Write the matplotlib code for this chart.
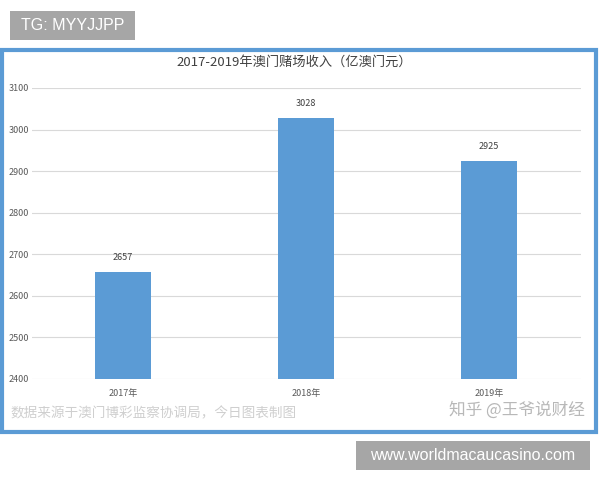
import matplotlib
matplotlib.use("Agg")
import matplotlib.pyplot as plt
from matplotlib.patches import Rectangle

plt.rcParams['font.family'] = ['Noto Sans CJK SC', 'DejaVu Sans']

# 数据
years = ["2017年", "2018年", "2019年"]
revenue = [2657, 3028, 2925]
yticks = [2400, 2500, 2600, 2700, 2800, 2900, 3000, 3100]

title = "2017-2019年澳门赌场收入（亿澳门元）"
source = "数据来源于澳门博彩监察协调局，今日图表制图"
zhihu = "知乎 @王爷说财经"

W, H = 600, 480
fig = plt.figure(figsize=(W / 100, H / 100), dpi=100)
fig.patch.set_facecolor("white")

def fx(px):
    return px / W

def fy(py):
    return 1 - py / H

def box(x0, y0, x1, y1, **kw):
    # 像素坐标 -> figure 坐标
    fig.patches.append(Rectangle((fx(x0), fy(y1)), fx(x1) - fx(x0), fy(y0) - fy(y1),
                                 transform=fig.transFigure, **kw))

# 外框
box(1.5, 50, 595.5, 432, fill=False, edgecolor="#5b9bd5", linewidth=3, zorder=0)

ax = fig.add_axes([fx(31.5), fy(379), fx(580.5) - fx(31.5), fy(88) - fy(379)])
x = range(len(years))
ax.bar(x, revenue, width=0.31, color="#5b9bd5", zorder=3)
for i, v in zip(x, revenue):
    ax.annotate(str(v), (i, v), xytext=(0, 7), textcoords="offset points",
                ha="center", va="bottom", fontsize=6.5, color="#404040")

ax.set_ylim(2400, 3100)
ax.set_xlim(-0.5, 2.5)
ax.set_yticks(yticks)
ax.set_xticks(list(x))
ax.set_xticklabels(years)
ax.tick_params(axis="both", length=0, labelsize=6.5, labelcolor="#595959")
ax.tick_params(axis="y", pad=2)
ax.tick_params(axis="x", pad=7)
ax.grid(axis="y", color="#d9d9d9", linewidth=0.8, zorder=0)
for s in ax.spines.values():
    s.set_visible(False)

fig.text(fx(294), fy(62), title, ha="center", va="center", fontsize=9.5, color="#404040")
fig.text(fx(10), fy(413), source, ha="left", va="center", fontsize=9.8, color="#cfcfcf")
fig.text(fx(585), fy(410), zhihu, ha="right", va="center", fontsize=12, color="#b8b8b8")

# 水印标签
box(10, 11, 135, 40, facecolor="#a6a6a6", edgecolor="none")
fig.text(fx(72.5), fy(25.5), "TG: MYYJJPP", ha="center", va="center", fontsize=11.5,
         color="white", family=["Liberation Sans", "DejaVu Sans"])
box(356, 441, 590, 470, facecolor="#a6a6a6", edgecolor="none")
fig.text(fx(473), fy(455.5), "www.worldmacaucasino.com", ha="center", va="center", fontsize=11.5,
         color="white", family=["Liberation Sans", "DejaVu Sans"])

fig.savefig("out.png", dpi=100)
